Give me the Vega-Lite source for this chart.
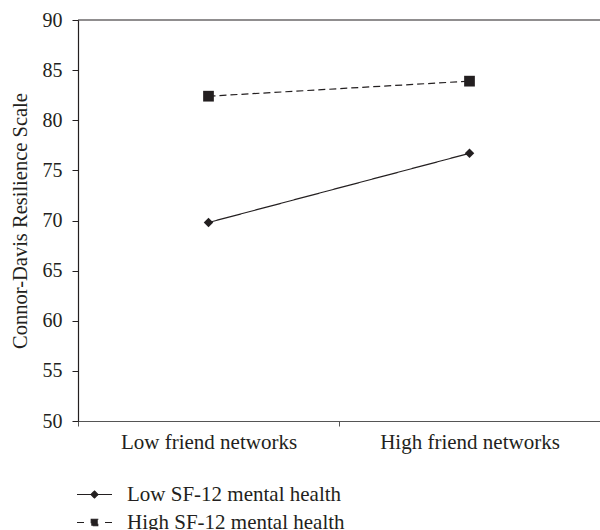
{
  "$schema": "https://vega.github.io/schema/vega-lite/v6.json",
  "width": 522,
  "height": 401,
  "autosize": "none",
  "padding": {"left": 78, "top": 20, "right": 0, "bottom": 109},
  "background": "white",
  "config": {
    "font": "Liberation Serif",
    "view": {"stroke": null},
    "axis": {"grid": false, "labelColor": "#231f20", "titleColor": "#231f20", "titleFontWeight": "normal"}
  },
  "data": {
    "values": [
      {"friends": "Low friend networks", "mh": "Low SF-12 mental health", "score": 69.8},
      {"friends": "High friend networks", "mh": "Low SF-12 mental health", "score": 76.7},
      {"friends": "Low friend networks", "mh": "High SF-12 mental health", "score": 82.4},
      {"friends": "High friend networks", "mh": "High SF-12 mental health", "score": 83.9}
    ]
  },
  "layer": [
    {
      "data": {"values": [{"top": 90}]},
      "mark": {"type": "rule", "color": "#231f20", "strokeWidth": 1.2},
      "encoding": {"y": {"field": "top", "type": "quantitative"}}
    },
    {
      "mark": {"type": "line", "color": "#231f20", "strokeWidth": 1.2},
      "encoding": {
        "x": {
          "field": "friends", "type": "nominal",
          "sort": ["Low friend networks", "High friend networks"],
          "scale": {"type": "band", "paddingInner": 0, "paddingOuter": 0},
          "axis": {
            "title": null, "labelAngle": 0, "tickBand": "extent", "tickSize": 5,
            "labelFontSize": 21, "labelPadding": 5,
            "domainColor": "#555555", "tickColor": "#555555", "domainWidth": 1.2
          }
        },
        "y": {
          "field": "score", "type": "quantitative",
          "scale": {"domain": [50, 90], "nice": false, "zero": false},
          "axis": {
            "title": "Connor-Davis Resilience Scale",
            "values": [50, 55, 60, 65, 70, 75, 80, 85, 90],
            "tickSize": 6, "labelPadding": 10, "labelFontSize": 20,
            "titleFontSize": 20.5, "titlePadding": 12,
            "domainColor": "#231f20", "tickColor": "#231f20", "domainWidth": 1.2
          }
        },
        "strokeDash": {
          "field": "mh", "type": "nominal",
          "scale": {"domain": ["Low SF-12 mental health", "High SF-12 mental health"], "range": [[1, 0], [7, 4]]},
          "legend": {
            "title": null, "orient": "none", "direction": "vertical",
            "legendX": 6, "legendY": 464, "padding": 0,
            "symbolSize": 100, "symbolStrokeWidth": 1.2,
            "symbolStrokeColor": "#231f20", "symbolFillColor": "#231f20",
            "symbolType": {"expr": "datum.value === 'Low SF-12 mental health' ? 'M-3.5,0H3.5M0,-0.7L0.7,0L0,0.7L-0.7,0Z' : 'M-3.5,0H-2.1M2.1,0H3.5M-0.65,-0.65H0.65V0.65H-0.65Z'"},
            "labelFontSize": 21, "labelColor": "#231f20", "labelOffset": 22,
            "rowPadding": 6, "labelLimit": 400
          }
        }
      }
    },
    {
      "transform": [{"filter": "datum.mh === 'Low SF-12 mental health'"}],
      "mark": {"type": "point", "filled": true, "opacity": 1, "color": "#231f20", "shape": "diamond", "size": 90},
      "encoding": {
        "x": {"field": "friends", "type": "nominal", "sort": ["Low friend networks", "High friend networks"]},
        "y": {"field": "score", "type": "quantitative"}
      }
    },
    {
      "transform": [{"filter": "datum.mh === 'High SF-12 mental health'"}],
      "mark": {"type": "point", "filled": true, "opacity": 1, "color": "#231f20", "shape": "square", "size": 115},
      "encoding": {
        "x": {"field": "friends", "type": "nominal", "sort": ["Low friend networks", "High friend networks"]},
        "y": {"field": "score", "type": "quantitative"}
      }
    }
  ]
}
